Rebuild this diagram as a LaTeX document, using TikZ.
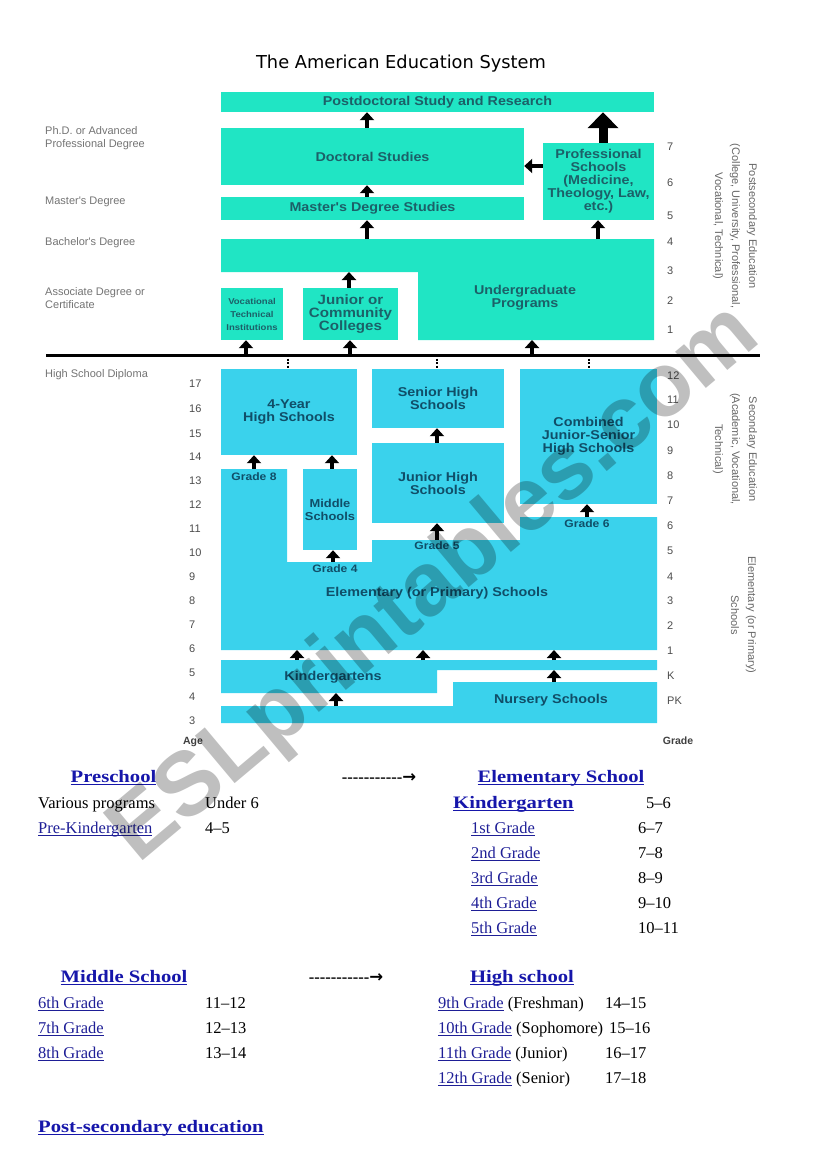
\documentclass[tikz,border=0pt]{standalone}
\usepackage{fontspec}
\setmainfont{Liberation Serif}
\newfontfamily\boxfont{Liberation Sans}
\newfontfamily\boxbold[FakeStretch=1.12]{Liberation Sans}
\newfontfamily\titlefont{DejaVu Sans}
\newfontfamily\arrowfont{DejaVu Sans}
\newfontfamily\headfont[FakeStretch=1.18]{Liberation Serif}
\usetikzlibrary{arrows.meta}
\definecolor{tq}{RGB}{32,229,196}
\definecolor{cy}{RGB}{58,210,236}
\definecolor{tqtext}{RGB}{28,96,104}
\definecolor{cytext}{RGB}{16,78,104}
\definecolor{linkblue}{RGB}{30,30,150}
\definecolor{headblue}{RGB}{22,22,170}
\newsavebox\lnkbox
\newcommand\lnk[1]{{\color{linkblue}\sbox\lnkbox{#1}\rlap{\rule[-2.6pt]{\wd\lnkbox}{1.1pt}}\usebox\lnkbox}}
\newcommand\hlnk[1]{{\color{headblue}\sbox\lnkbox{#1}\rlap{\rule[-3.2pt]{\wd\lnkbox}{1.6pt}}\usebox\lnkbox}}
\newcommand\dd{-\kern0pt}

\begin{document}
\begin{tikzpicture}[x=1pt, y=-1pt,
  tqb/.style={fill=tq, inner sep=0, align=center, text=tqtext,
    font=\boxbold\bfseries\fontsize{12.8}{13}\selectfont},
  cyb/.style={tqb, fill=cy, text=cytext},
  arr/.style={-{Triangle[width=14pt,length=8pt]}, line width=3.5pt},
  bigarr/.style={-{Triangle[width=30pt,length=16pt]}, line width=9pt},
  tick/.style={line width=2.5pt, dash pattern=on 2pt off 1.5pt},
  deg/.style={font=\boxfont\fontsize{11}{13}\selectfont, text=black!55, align=left, anchor=west, inner sep=0},
  age/.style={font=\boxfont\fontsize{11}{13}\selectfont, text=black!70, anchor=west, inner sep=0},
  side/.style={font=\boxfont\fontsize{11}{17}\selectfont, text=black!60, align=center, rotate=-90},
  grd/.style={font=\boxbold\bfseries\fontsize{10.8}{12}\selectfont, text=cytext, inner sep=0},
  axis/.style={font=\boxfont\bfseries\fontsize{10.5}{12}\selectfont, text=black!75, inner sep=0},
  txt/.style={font=\fontsize{16.5}{20}\selectfont, anchor=base west, inner sep=0},
  hd/.style={font=\headfont\bfseries\fontsize{17.5}{20}\selectfont, anchor=base, inner sep=0},
  dsh/.style={font=\bfseries\fontsize{16.5}{20}\selectfont, anchor=base, inner sep=0},
  wm/.style={font=\boxfont\bfseries\fontsize{90}{90}\selectfont, text=black, opacity=0.25, rotate=40}]
  \useasboundingbox (0,0) rectangle (821,1169);

  \node[font=\titlefont\fontsize{17.8}{20}\selectfont, anchor=base] (ttl) at (401,69) {The American Education System};

  \node[tqb, minimum width=433, minimum height=20] (pd) at (437.5,102) {Postdoctoral Study and Research};
  \node[tqb, minimum width=303, minimum height=57] (doc) at (372.5,156.5) {Doctoral Studies};
  \node[tqb, minimum width=111, minimum height=77] (prof) at (598.5,181.5) {Professional\\Schools\\(Medicine,\\Theology, Law,\\etc.)};
  \node[tqb, minimum width=303, minimum height=23] (mast) at (372.5,208.5) {Master's Degree Studies};
  \fill[tq] (221,239) coordinate (ugT) -- (654,239) -- (654,340) coordinate (ugB) -- (418,340)
    -- (418,272) -- (221,272) coordinate (ugL) -- cycle;
  \node[tqb, fill=none] (ugx) at (525,298) {Undergraduate\\Programs};
  \node[tqb, minimum width=62, minimum height=52, font=\boxbold\bfseries\fontsize{8.5}{13}\selectfont] (voc) at (252,314) {Vocational\\Technical\\Institutions};
  \node[tqb, minimum width=95, minimum height=52, font=\boxbold\bfseries\fontsize{13.5}{13}\selectfont] (jcc) at (350.5,314) {Junior or\\Community\\Colleges};

  \draw[arr] (367,0 |- doc.north) -- (367,0 |- pd.south);
  \draw[bigarr] (603,0 |- prof.north) -- (603,0 |- pd.south);
  \draw[arr] (prof.west |- 0,166) -- (doc.east |- 0,166);
  \draw[arr] (367,0 |- mast.north) -- (367,0 |- doc.south);
  \draw[arr] (367,0 |- ugT) -- (367,0 |- mast.south);
  \draw[arr] (598,0 |- ugT) -- (598,0 |- prof.south);
  \draw[arr] (349,0 |- jcc.north) -- (349,0 |- ugL);

  \coordinate (hsl) at (46,355);
  \coordinate (hsr) at (760,355);
  \draw[line width=3pt] (hsl) -- (hsr);
  \draw[arr] (246,0 |- hsl) -- (246,0 |- voc.south);
  \draw[arr] (350,0 |- hsl) -- (350,0 |- jcc.south);
  \draw[arr] (532,0 |- hsl) -- (532,0 |- ugB);

  \node[cyb, minimum width=136, minimum height=86] (hs4) at (289,412) {4-Year\\High Schools};
  \node[cyb, minimum width=132, minimum height=59] (shs) at (438,398.5) {Senior High\\Schools};
  \node[cyb, minimum width=137, minimum height=135] (comb) at (588.5,436.5) {Combined\\Junior-Senior\\High Schools};
  \node[cyb, minimum width=132, minimum height=80] (jhs) at (438,483) {Junior High\\Schools};
  \node[cyb, minimum width=54, minimum height=81, font=\boxbold\bfseries\fontsize{11.5}{13}\selectfont] (ms) at (330,509.5) {Middle\\Schools};
  \fill[cy] (221,469) coordinate (elT) -- (287,469) -- (287,562) coordinate (el4) -- (372,562)
    -- (372,540) coordinate (el5) -- (520,540) -- (520,517) coordinate (el6) -- (657,517)
    -- (657,650) -- (221,650) coordinate (elB) -- cycle;
  \node[cyb, fill=none] (elx) at (437,593) {Elementary (or Primary) Schools};
  \node[grd] (g8) at (254,477) {Grade 8};
  \node[grd] (g4) at (335,569) {Grade 4};
  \node[grd] (g5) at (437,546) {Grade 5};
  \node[grd] (g6) at (587,524) {Grade 6};
  \fill[cy] (221,660) coordinate (kgT) -- (657,660) -- (657,670) coordinate (kgR) -- (437,670)
    -- (437,693) -- (221,693) coordinate (kgB) -- cycle;
  \node[cyb, fill=none] (kgx) at (333,677) {Kindergartens};
  \fill[cy] (221,706) coordinate (nsL) -- (453,706) -- (453,682) coordinate (nsT) -- (657,682)
    -- (657,723) -- (221,723) -- cycle;
  \node[cyb, fill=none] (nsx) at (551,700) {Nursery Schools};

  \draw[tick] (288,0 |- hsl) -- (288,0 |- hs4.north);
  \draw[tick] (437,0 |- hsl) -- (437,0 |- shs.north);
  \draw[tick] (589,0 |- hsl) -- (589,0 |- comb.north);
  \draw[arr] (437,0 |- jhs.north) -- (437,0 |- shs.south);
  \draw[arr] (254,0 |- elT) -- (254,0 |- hs4.south);
  \draw[arr] (332,0 |- ms.north) -- (332,0 |- hs4.south);
  \draw[arr] (333,0 |- el4) -- (333,0 |- ms.south);
  \draw[arr] (437,0 |- el5) -- (437,0 |- jhs.south);
  \draw[arr] (587,0 |- el6) -- (587,0 |- comb.south);
  \draw[arr] (297,0 |- kgT) -- (297,0 |- elB);
  \draw[arr] (423,0 |- kgT) -- (423,0 |- elB);
  \draw[arr] (554,0 |- kgT) -- (554,0 |- elB);
  \draw[arr] (336,0 |- nsL) -- (336,0 |- kgB);
  \draw[arr] (554,0 |- nsT) -- (554,0 |- kgR);

  \node[deg] (phd) at (45,138) {Ph.D. or Advanced\\Professional Degree};
  \node[deg] (ma) at (45,202) {Master's Degree};
  \node[deg] (ba) at (45,243) {Bachelor's Degree};
  \node[deg] (as) at (45,298) {Associate Degree or\\Certificate};
  \node[deg] (hsd) at (45,375) {High School Diploma};

  \node[age] (a17) at (189,384) {17};
  \node[age] (a16) at (189,409) {16};
  \node[age] (a15) at (189,434) {15};
  \node[age] (a14) at (189,457) {14};
  \node[age] (a13) at (189,481) {13};
  \node[age] (a12) at (189,505) {12};
  \node[age] (a11) at (189,529) {11};
  \node[age] (a10) at (189,553) {10};
  \node[age] (a9) at (189,577) {9};
  \node[age] (a8) at (189,601) {8};
  \node[age] (a7) at (189,625) {7};
  \node[age] (a6) at (189,649) {6};
  \node[age] (a5) at (189,673) {5};
  \node[age] (a4) at (189,697) {4};
  \node[age] (a3) at (189,721) {3};
  \node[axis] (agex) at (193,742) {Age};

  \node[age] (p7) at (667,147) {7};
  \node[age] (p6) at (667,183) {6};
  \node[age] (p5) at (667,216) {5};
  \node[age] (p4) at (667,242) {4};
  \node[age] (p3) at (667,271) {3};
  \node[age] (p2) at (667,301) {2};
  \node[age] (p1) at (667,330) {1};
  \node[age] (s12) at (667,376) {12};
  \node[age] (s11) at (667,400) {11};
  \node[age] (s10) at (667,425) {10};
  \node[age] (s9) at (667,451) {9};
  \node[age] (s8) at (667,476) {8};
  \node[age] (s7) at (667,501) {7};
  \node[age] (s6) at (667,526) {6};
  \node[age] (s5) at (667,551) {5};
  \node[age] (s4) at (667,577) {4};
  \node[age] (s3) at (667,601) {3};
  \node[age] (s2) at (667,626) {2};
  \node[age] (s1) at (667,651) {1};
  \node[age] (sk) at (667,676) {K};
  \node[age] (spk) at (667,701) {PK};
  \node[axis] (grdx) at (678,741) {Grade};

  \node[side] (post) at (735,226) {Postsecondary Education\\(College, University, Professional,\\Vocational, Technical)};
  \node[side] (sec) at (735,449) {Secondary Education\\(Academic, Vocational,\\Technical)};
  \node[side] (elside) at (743.5,615) {Elementary (or Primary)\\Schools};

  \node[hd] (pre) at (113.5,782) {\hlnk{Preschool}};
  \node[dsh] (ar1) at (379,782) {\dd\dd\dd\dd\dd\dd\dd\dd\dd\dd\dd{\arrowfont →}};
  \node[hd] (ele) at (561,782) {\hlnk{Elementary School}};
  \node[txt] (var) at (38,808) {Various programs};
  \node[txt] (varA) at (205,808) {Under 6};
  \node[txt] (prek) at (38,833) {\lnk{Pre-Kindergarten}};
  \node[txt] (prekA) at (205,833) {4–5};
  \node[hd, anchor=base west] (kin) at (453,808) {\hlnk{Kindergarten}};
  \node[txt] (kinA) at (646,808) {5–6};
  \node[txt] (e1) at (471,833) {\lnk{1st Grade}};
  \node[txt] (e1A) at (638,833) {6–7};
  \node[txt] (e2) at (471,858) {\lnk{2nd Grade}};
  \node[txt] (e2A) at (638,858) {7–8};
  \node[txt] (e3) at (471,883) {\lnk{3rd Grade}};
  \node[txt] (e3A) at (638,883) {8–9};
  \node[txt] (e4) at (471,908) {\lnk{4th Grade}};
  \node[txt] (e4A) at (638,908) {9–10};
  \node[txt] (e5) at (471,933) {\lnk{5th Grade}};
  \node[txt] (e5A) at (638,933) {10–11};

  \node[hd] (mid) at (124,982) {\hlnk{Middle School}};
  \node[dsh] (ar2) at (346,982) {\dd\dd\dd\dd\dd\dd\dd\dd\dd\dd\dd{\arrowfont →}};
  \node[hd] (hig) at (522,982) {\hlnk{High school}};
  \node[txt] (m6) at (38,1008) {\lnk{6th Grade}};
  \node[txt] (m6A) at (205,1008) {11–12};
  \node[txt] (m7) at (38,1033) {\lnk{7th Grade}};
  \node[txt] (m7A) at (205,1033) {12–13};
  \node[txt] (m8) at (38,1058) {\lnk{8th Grade}};
  \node[txt] (m8A) at (205,1058) {13–14};
  \node[txt] (h9) at (438,1008) {\lnk{9th Grade} (Freshman)};
  \node[txt] (h9A) at (605,1008) {14–15};
  \node[txt] (h10) at (438,1033) {\lnk{10th Grade} (Sophomore)};
  \node[txt] (h10A) at (609,1033) {15–16};
  \node[txt] (h11) at (438,1058) {\lnk{11th Grade} (Junior)};
  \node[txt] (h11A) at (605,1058) {16–17};
  \node[txt] (h12) at (438,1083) {\lnk{12th Grade} (Senior)};
  \node[txt] (h12A) at (605,1083) {17–18};
  \node[hd, anchor=base west] (pse) at (38,1132) {\hlnk{Post-secondary education}};

  \node[wm] (wm) at (436,585) {ESLprintables.com};
\end{tikzpicture}
\end{document}
